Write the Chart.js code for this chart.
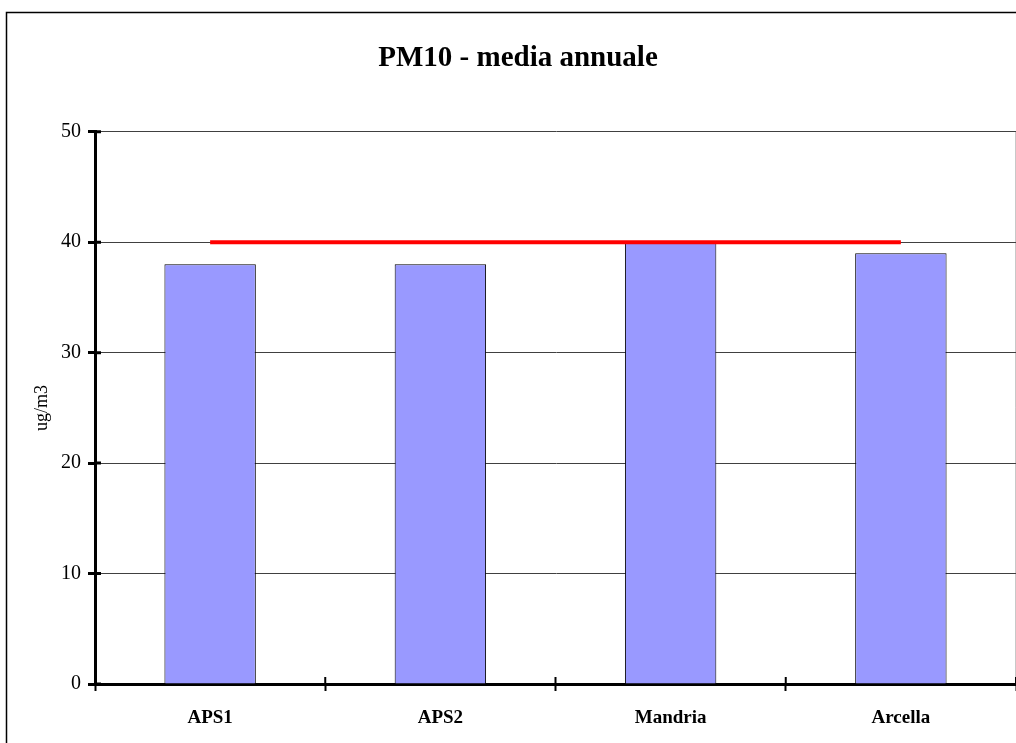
<!DOCTYPE html>
<html>
<head>
<meta charset="utf-8">
<script src="https://cdn.jsdelivr.net/npm/chart.js@4/dist/chart.umd.min.js"></script>
<style>
html,body{margin:0;padding:0;background:#fff;overflow:hidden;}
#wrap{position:relative;width:1016px;height:743px;}
</style>
</head>
<body>
<div id="wrap"><canvas id="c" width="1016" height="743"></canvas></div>
<script>
const categories = ['APS1', 'APS2', 'Mandria', 'Arcella'];
const mediaValues = [38, 38, 40, 39];
const limitValues = [40, 40, 40, 40];
const yTicks = [0, 10, 20, 30, 40, 50];
const titleText = 'PM10 - media annuale';
const yTitle = 'ug/m3';

const SERIF = "'Liberation Serif', 'Times New Roman', serif";

const framePlugin = {
  id: 'frame',
  beforeDraw(chart) {
    const ctx = chart.ctx;
    ctx.save();
    ctx.fillStyle = '#fff';
    ctx.fillRect(0, 0, chart.width, chart.height);
    ctx.strokeStyle = '#000';
    ctx.lineWidth = 1.5;
    ctx.strokeRect(6.5, 12.5, chart.width + 50, chart.height + 50);
    const a = chart.chartArea;
    ctx.strokeStyle = '#c8c8c8';
    ctx.lineWidth = 1;
    ctx.beginPath();
    ctx.moveTo(a.right - 0.5, a.top);
    ctx.lineTo(a.right - 0.5, a.bottom);
    ctx.stroke();
    ctx.restore();
  },
  afterDatasetsDraw(chart) {
    // inner halves of axis tick marks (cross ticks)
    const ctx = chart.ctx;
    const y = chart.scales.y, x = chart.scales.x;
    ctx.save();
    ctx.strokeStyle = '#000';
    ctx.lineWidth = 3;
    ctx.beginPath();
    y.ticks.forEach(t => {
      const py = y.getPixelForValue(t.value);
      ctx.moveTo(y.right, py);
      ctx.lineTo(y.right + 6, py);
    });
    ctx.stroke();
    ctx.lineWidth = 2;
    ctx.beginPath();
    const n = categories.length;
    const step = x.getPixelForValue(1) - x.getPixelForValue(0);
    for (let i = 1; i <= n; i++) {
      const px = x.getPixelForValue(i - 1) + step / 2;
      ctx.moveTo(px, x.top);
      ctx.lineTo(px, x.top - 7);
    }
    ctx.stroke();
    ctx.restore();
  }
};

new Chart(document.getElementById('c'), {
  type: 'bar',
  data: {
    labels: categories,
    datasets: [
      {
        type: 'line',
        label: 'limite',
        data: limitValues,
        borderColor: '#ff0000',
        borderWidth: 4,
        pointRadius: 0,
        fill: false,
        order: 0
      },
      {
        type: 'bar',
        label: 'media annuale',
        data: mediaValues,
        backgroundColor: '#9999ff',
        borderColor: '#000',
        borderWidth: 1,
        barPercentage: 0.397,
        categoryPercentage: 1.0,
        order: 1
      }
    ]
  },
  plugins: [framePlugin],
  options: {
    responsive: false,
    animation: false,
    devicePixelRatio: 1,
    layout: { padding: { left: 20, right: 0, top: 0, bottom: 0 } },
    plugins: {
      legend: { display: false },
      tooltip: { enabled: false },
      title: {
        display: true,
        text: titleText,
        color: '#000',
        font: { family: SERIF, size: 29, weight: 'bold', lineHeight: 1.2 },
        padding: { top: 41, bottom: 56 }
      }
    },
    scales: {
      x: {
        offset: true,
        grid: {
          offset: true,
          drawOnChartArea: false,
          drawTicks: true,
          tickLength: 7,
          tickWidth: 2,
          tickColor: '#000'
        },
        border: { display: true, color: '#000', width: 3 },
        ticks: {
          color: '#000',
          padding: 16,
          font: { family: SERIF, size: 19, weight: 'bold' }
        },
        afterFit(scale) { scale.height = 59; }
      },
      y: {
        min: 0,
        max: 50,
        afterBuildTicks(scale) { scale.ticks = yTicks.map(v => ({ value: v })); },
        grid: {
          color: '#404040',
          lineWidth: 1,
          drawTicks: true,
          tickLength: 7,
          tickWidth: 3,
          tickColor: '#000'
        },
        border: { display: true, color: '#000', width: 3 },
        ticks: {
          color: '#000',
          padding: 7,
          font: { family: SERIF, size: 20 }
        },
        title: {
          display: true,
          text: yTitle,
          color: '#000',
          font: { family: SERIF, size: 18 },
          padding: { top: 11, bottom: 0 }
        },
        afterFit(scale) { scale.width = 75; }
      }
    }
  }
});
</script>
</body>
</html>
